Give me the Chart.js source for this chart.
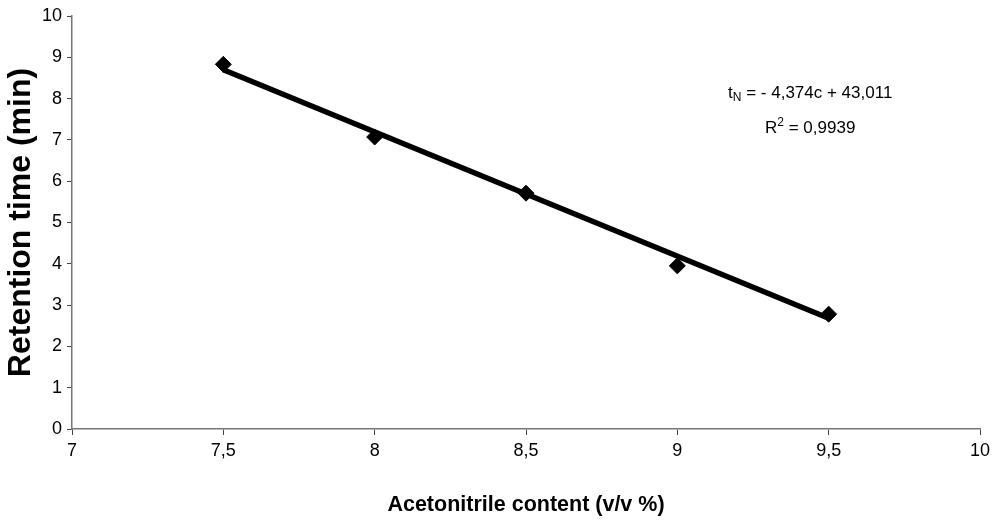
<!DOCTYPE html>
<html>
<head>
<meta charset="utf-8">
<script src="https://cdn.jsdelivr.net/npm/chart.js@4.4.0/dist/chart.umd.min.js"></script>
<style>
  html, body { margin: 0; padding: 0; background: #fff; }
  #wrap { width: 999px; height: 520px; }
</style>
</head>
<body>
<div id="wrap"><canvas id="grafico"></canvas></div>
<script>
// measured points
const acetonitrile = [7.5, 8, 8.5, 9, 9.5];
const retention = [8.83, 7.07, 5.71, 3.95, 2.78];

// trend line end points as drawn
const trendX = [7.5, 9.5];
const trendY = [8.7, 2.68];

const xTicks = [7, 7.5, 8, 8.5, 9, 9.5, 10];
const yTicks = [0, 1, 2, 3, 4, 5, 6, 7, 8, 9, 10];

const fontName = '"Liberation Sans", Arial, sans-serif';

const pts = acetonitrile.map((x, i) => ({x: x, y: retention[i]}));
const trend = trendX.map((x, i) => ({x: x, y: trendY[i]}));

// equation text next to the line
const equationPlugin = {
  id: 'equation',
  afterDraw(chart) {
    const c = chart.ctx;
    const a = chart.chartArea;
    const cx = a.left + (a.right - a.left) * 0.813;
    const big = '17px ' + fontName;
    const small = '12px ' + fontName;
    c.save();
    c.fillStyle = '#000';
    c.textBaseline = 'alphabetic';
    // line 1: tN = - 4,374c + 43,011
    const rest = ' = - 4,374c + 43,011';
    c.font = big;
    const wT = c.measureText('t').width;
    const wR = c.measureText(rest).width;
    c.font = small;
    const wN = c.measureText('N').width;
    let x0 = cx - (wT + wN + wR) / 2;
    const y1 = 98;
    c.font = big;
    c.fillText('t', x0, y1);
    c.fillText(rest, x0 + wT + wN, y1);
    c.font = small;
    c.fillText('N', x0 + wT, y1 + 3);
    // line 2: R2 = 0,9939
    const r2 = ' = 0,9939';
    c.font = big;
    const wRR = c.measureText('R').width;
    const wr2 = c.measureText(r2).width;
    c.font = small;
    const w2 = c.measureText('2').width;
    x0 = cx - (wRR + w2 + wr2) / 2;
    const y2 = 133;
    c.font = big;
    c.fillText('R', x0, y2);
    c.fillText(r2, x0 + wRR + w2, y2);
    c.font = small;
    c.fillText('2', x0 + wRR, y2 - 7);
    c.restore();
  }
};

new Chart(document.getElementById('grafico'), {
  type: 'scatter',
  data: {
    datasets: [
      {
        type: 'line',
        label: 'Trend',
        data: trend,
        borderColor: '#000',
        borderWidth: 5.5,
        pointRadius: 0,
        fill: false,
        order: 2
      },
      {
        label: 'Retention time',
        data: pts,
        pointStyle: 'rectRot',
        pointRadius: 8,
        backgroundColor: '#000',
        borderColor: '#000',
        order: 1
      }
    ]
  },
  options: {
    responsive: true,
    maintainAspectRatio: false,
    animation: false,
    layout: { padding: { top: 16, right: 19, left: 0, bottom: 0 } },
    plugins: {
      legend: { display: false },
      tooltip: { enabled: false }
    },
    scales: {
      x: {
        type: 'linear',
        min: 7,
        max: 10,
        afterBuildTicks: (s) => { s.ticks = xTicks.map(v => ({value: v})); },
        afterFit: (s) => { s.height = 91; },
        border: { color: '#777', width: 1.5 },
        grid: { drawOnChartArea: false, drawTicks: true, tickLength: 6, color: '#444' },
        ticks: {
          color: '#000',
          padding: 5,
          font: { family: fontName, size: 18 },
          callback: (v) => String(v).replace('.', ',')
        },
        title: {
          display: true,
          text: 'Acetonitrile content (v/v %)',
          color: '#000',
          font: { family: fontName, size: 21.5, weight: 'bold' },
          padding: { top: 10, bottom: 2 }
        }
      },
      y: {
        type: 'linear',
        min: 0,
        max: 10,
        afterBuildTicks: (s) => { s.ticks = yTicks.map(v => ({value: v})); },
        afterFit: (s) => { s.width = 72; },
        border: { color: '#777', width: 1.5 },
        grid: { drawOnChartArea: false, drawTicks: true, tickLength: 5, color: '#444' },
        ticks: {
          color: '#000',
          padding: 5,
          font: { family: fontName, size: 18 }
        },
        title: {
          display: true,
          text: 'Retention time (min)',
          color: '#000',
          font: { family: fontName, size: 32, weight: 'bold' },
          padding: { top: 2, bottom: 4 }
        }
      }
    }
  },
  plugins: [equationPlugin]
});
</script>
</body>
</html>
